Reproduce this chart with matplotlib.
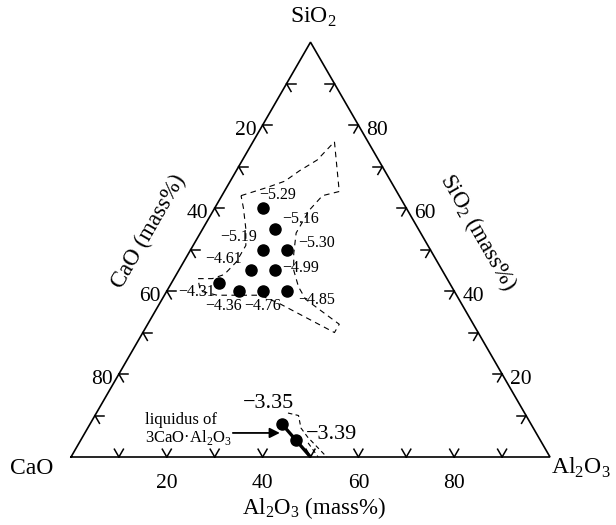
import numpy as np
import matplotlib.pyplot as plt

plt.rcParams['font.family'] = 'Liberation Serif'
plt.rcParams['mathtext.fontset'] = 'custom'
plt.rcParams['mathtext.rm'] = 'Liberation Serif'

# compositions in mass%: SiO2, Al2O3 (CaO = rest)
pt_sio2 = [60, 55, 50, 50, 45, 45, 42, 40, 40, 40]
pt_al2o3 = [10, 15, 15, 20, 15, 20, 10, 15, 20, 25]
pt_labels = ['−5.29', '−5.16', '−5.19', '−5.30', '−4.61', '−4.99',
             '−4.31', '−4.36', '−4.76', '−4.85']

liq_sio2 = [8, 4]
liq_al2o3 = [40, 45]
liq_labels = ['−3.35', '−3.39']

# liquidus of 3CaO.Al2O3
line_sio2 = [8, 0]
line_al2o3 = [40, 50]

# dashed boundary round the measured points
reg_sio2 = [63, 65, 66.5, 69, 71.6, 76, 64, 63, 59.5, 57, 54, 49, 45, 41, 38,
            35, 32, 30, 37, 39, 39, 39, 40, 43, 43, 44, 47, 51, 55, 60, 63]
reg_al2o3 = [4, 8.5, 11.4, 13.2, 15.6, 17, 24, 21, 20, 20, 20, 22, 24, 27, 30,
             35, 40, 40, 25, 20, 16.5, 11, 7, 5, 8, 10, 11, 11, 9, 6, 4]

# dashed lines near the liquidus
dl1_sio2 = [10.6, 10, 7, 4.8, 0]
dl1_al2o3 = [40, 42.5, 44.5, 47, 53.4]
dl2_sio2 = [3.4, 0]
dl2_al2o3 = [47.8, 51.6]

tick_vals = [10, 20, 30, 40, 50, 60, 70, 80, 90]
tick_labels = ['20', '40', '60', '80']


def tern(sio2, al2o3):
    s = np.asarray(sio2, dtype=float) / 100
    a = np.asarray(al2o3, dtype=float) / 100
    return a + s / 2, s * np.sqrt(3) / 2


fig = plt.figure(figsize=(6.16, 5.25), dpi=100)
ax = fig.add_axes([0, 0, 1, 1])
ax.set_xlim(-71 / 479, 545 / 479)
ax.set_ylim(-68 / 479, 457 / 479)
ax.set_aspect('equal')
ax.axis('off')

# triangle
tx, ty = tern([0, 0, 100, 0], [0, 100, 0, 0])
ax.plot(tx, ty, color='k', lw=1.2, solid_joinstyle='miter')

# arrow-like ticks
L = 9 / 479
def arms(x0, y0, angs):
    for ang in angs:
        r = np.radians(ang)
        ax.plot([x0, x0 + L * np.cos(r)], [y0, y0 + L * np.sin(r)], color='k', lw=1.1)

for v in tick_vals:
    x0, y0 = tern(0, v)          # bottom, Al2O3
    arms(x0, y0, [60, 120])
    x0, y0 = tern(100 - v, 0)    # left, CaO = v
    arms(x0, y0, [0, -60])
    x0, y0 = tern(v, 100 - v)    # right, SiO2 = v
    arms(x0, y0, [180, 240])

fs_tick = 15.5
for lab in tick_labels:
    v = float(lab)
    ax.annotate(lab, tern(0, v), xytext=(0, -27), textcoords='offset pixels',
                ha='center', va='center', fontsize=fs_tick)
    ax.annotate(lab, tern(100 - v, 0), xytext=(-6, -5), textcoords='offset pixels',
                ha='right', va='center', fontsize=fs_tick)
    ax.annotate(lab, tern(v, 100 - v), xytext=(8, -5), textcoords='offset pixels',
                ha='left', va='center', fontsize=fs_tick)

# vertex labels
ax.annotate('CaO', tern(0, 0), xytext=(-39, -11), textcoords='offset pixels',
            ha='center', va='center', fontsize=17)
ax.annotate('Al$_\\mathregular{2}$O$_\\mathregular{3}$', tern(0, 100), xytext=(31, -11),
            textcoords='offset pixels', ha='center', va='center', fontsize=17)
ax.annotate('SiO$_\\mathregular{2}$', tern(100, 0), xytext=(3, 25),
            textcoords='offset pixels', ha='center', va='center', fontsize=17)

# axis titles
ax.annotate('Al$_\\mathregular{2}$O$_\\mathregular{3}$ (mass%)', tern(0, 50), xytext=(3, -51),
            textcoords='offset pixels', ha='center', va='center', fontsize=16.5)
ax.annotate('CaO (mass%)', tern(50, 0), xytext=(-42, 18), textcoords='offset pixels',
            ha='center', va='center', fontsize=16.5, rotation=60, rotation_mode='anchor')
ax.annotate('SiO$_\\mathregular{2}$ (mass%)', tern(50, 50), xytext=(48, 17),
            textcoords='offset pixels', ha='center', va='center', fontsize=16.5,
            rotation=-60, rotation_mode='anchor')

# dashed regions
rx, ry = tern(reg_sio2, reg_al2o3)
ax.plot(rx, ry, color='k', lw=0.8, ls=(0, (5, 4)))
dx, dy = tern(dl1_sio2, dl1_al2o3)
ax.plot(dx, dy, color='k', lw=0.8, ls=(0, (4, 3)))
dx, dy = tern(dl2_sio2, dl2_al2o3)
ax.plot(dx, dy, color='k', lw=0.8, ls=(0, (4, 3)))

# liquidus line
lx, ly = tern(line_sio2, line_al2o3)
ax.plot(lx, ly, color='k', lw=2.4, solid_capstyle='butt')

# points
px, py = tern(pt_sio2, pt_al2o3)
ax.plot(px, py, 'o', color='k', ms=8, zorder=5)
qx, qy = tern(liq_sio2, liq_al2o3)
ax.plot(qx, qy, 'o', color='k', ms=8, zorder=5)

pt_off = [(-3, 13), (8, 10), (-6, 13), (12, 7), (-9, 11), (8, 2),
          (-5, -9), (3, -15), (18, -15), (12, -9)]
pt_ha = ['left', 'left', 'right', 'left', 'right', 'left',
         'right', 'right', 'right', 'left']
for i in range(len(pt_labels)):
    ax.annotate(pt_labels[i], (px[i], py[i]), xytext=pt_off[i], textcoords='offset pixels',
                ha=pt_ha[i], va='center', fontsize=11.5)

liq_off = [(-13, 20), (10, 6)]
liq_ha = ['center', 'left']
for i in range(len(liq_labels)):
    ax.annotate(liq_labels[i], (qx[i], qy[i]), xytext=liq_off[i], textcoords='offset pixels',
                ha=liq_ha[i], va='center', fontsize=16)

# arrow to the liquidus
tip = tern(5.8, 40.7)
ax.annotate('', tip, xytext=(-47, 0), textcoords='offset pixels',
            arrowprops=dict(arrowstyle='-|>', color='k', lw=1.3, mutation_scale=15,
                            shrinkA=0, shrinkB=0))
ax.annotate('liquidus of\n3CaO·Al$_\\mathregular{2}$O$_\\mathregular{3}$', tip,
            xytext=(-135, 3), textcoords='offset pixels', ha='left', va='center',
            fontsize=12, linespacing=1.0)

fig.savefig('out.png', dpi=100)
